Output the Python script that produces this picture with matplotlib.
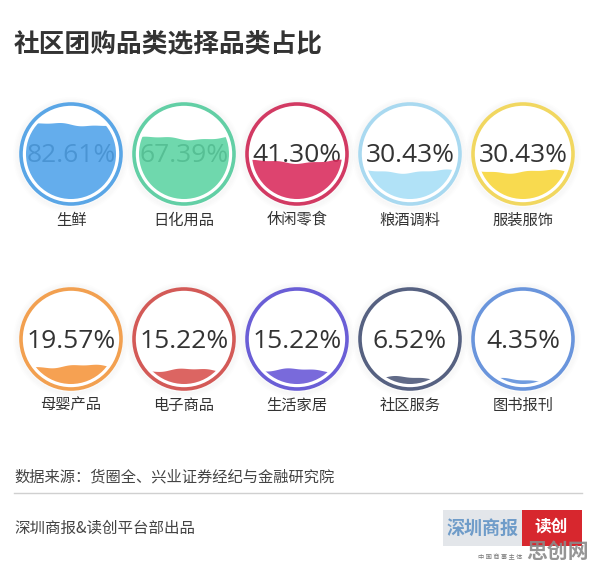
import numpy as np
import matplotlib
matplotlib.use("Agg")
import matplotlib.pyplot as plt
from matplotlib.patches import Circle, Polygon, Rectangle

plt.rcParams['font.family'] = ['Noto Sans CJK SC', 'DejaVu Sans']

title = "社区团购品类选择品类占比"
categories = ["生鲜", "日化用品", "休闲零食", "粮酒调料", "服装服饰",
              "母婴产品", "电子商品", "生活家居", "社区服务", "图书报刊"]
values = [82.61, 67.39, 41.30, 30.43, 30.43, 19.57, 15.22, 15.22, 6.52, 4.35]
colors = ["#4ea2ea", "#5bd3a2", "#d92a5b", "#a6def6", "#f8d536",
          "#f5943a", "#d8504c", "#6655d6", "#4b5678", "#5d8fdb"]
ring_colors = ["#5aa6e6", "#62cfa5", "#d23a63", "#a9d9f0", "#f1d760",
               "#f2a050", "#d35a57", "#6a5ed6", "#566181", "#6a95dc"]
source = "数据来源：货圈全、兴业证券经纪与金融研究院"
credit = "深圳商报&读创平台部出品"

W, H = 596, 566
fig = plt.figure(figsize=(W / 100, H / 100), dpi=100)
ax = fig.add_axes([0, 0, 1, 1])
ax.set_xlim(0, W)
ax.set_ylim(H, 0)
ax.set_aspect('equal')
ax.axis('off')

ax.text(14, 44, title, fontsize=18.5, fontweight='bold', color='#333333',
        ha='left', va='center')

x0, dx = 71, 113
row_y = [154, 339]
R_out, R_in = 50, 45

for i, (cat, v, c, rc) in enumerate(zip(categories, values, colors, ring_colors)):
    cx = x0 + dx * (i % 5)
    cy = row_y[i // 5]
    # soft shadow
    for k, a in enumerate([0.035, 0.03, 0.025, 0.02]):
        ax.add_patch(Circle((cx, cy + 1), R_out + 2 + k * 1.5, facecolor='none',
                            edgecolor='#999999', lw=2, alpha=a, zorder=1))
    ax.add_patch(Circle((cx, cy), R_out, facecolor='white', edgecolor=rc,
                        lw=2.6, zorder=2))
    # percentage text (under the water)
    ax.text(cx, cy + 2, f"{v:.2f}%", fontsize=19, color='#333333',
            family=['Open Sans', 'DejaVu Sans'], ha='center', va='center', zorder=3)
    # water
    level = cy + R_in - 2 * R_in * v / 100.0
    xs = np.linspace(cx - R_in - 2, cx + R_in + 2, 160)
    t = (xs - cx) / (2 * R_in)
    wave = level + 1.6 * np.sin(t * 2 * np.pi * 1.1 + 0.7 * i) + 0.6 * np.sin(t * 2 * np.pi * 3.0 + i)
    verts = list(zip(xs, wave)) + [(cx + R_in + 2, cy + R_in + 3), (cx - R_in - 2, cy + R_in + 3)]
    poly = Polygon(verts, closed=True, facecolor=c, edgecolor='none', alpha=0.88, zorder=4)
    clip = Circle((cx, cy), R_in, transform=ax.transData)
    ax.add_patch(poly)
    poly.set_clip_path(clip)
    ax.text(cx, cy + 66, cat, fontsize=11, color='#333333', ha='center', va='center')

ax.text(14, 477, source, fontsize=11, color='#444444', ha='left', va='center')
ax.plot([14, 582], [493, 493], color='#d0d0d0', lw=1)
ax.text(14, 528, credit, fontsize=11.2, color='#444444', ha='left', va='center')

# logo
ax.add_patch(Rectangle((443, 510), 80, 36, facecolor='#e3e6ea', edgecolor='none'))
ax.add_patch(Rectangle((522, 510), 60, 36, facecolor='#d7272e', edgecolor='none'))
ax.text(483, 528, "深圳商报", fontsize=13, color='#6f9cc9', fontweight='bold',
        ha='center', va='center')
ax.text(551, 527, "读创", fontsize=12, color='white', fontweight='bold',
        ha='center', va='center')
ax.text(500, 557, "中 国 商 事 主 体", fontsize=4.5, color='#777777', ha='center', va='center')
ax.text(558, 551, "思创网", fontsize=15, color='#8a8a8a', fontweight='bold',
        ha='center', va='center', alpha=0.9)

fig.savefig("out.png", dpi=100)
